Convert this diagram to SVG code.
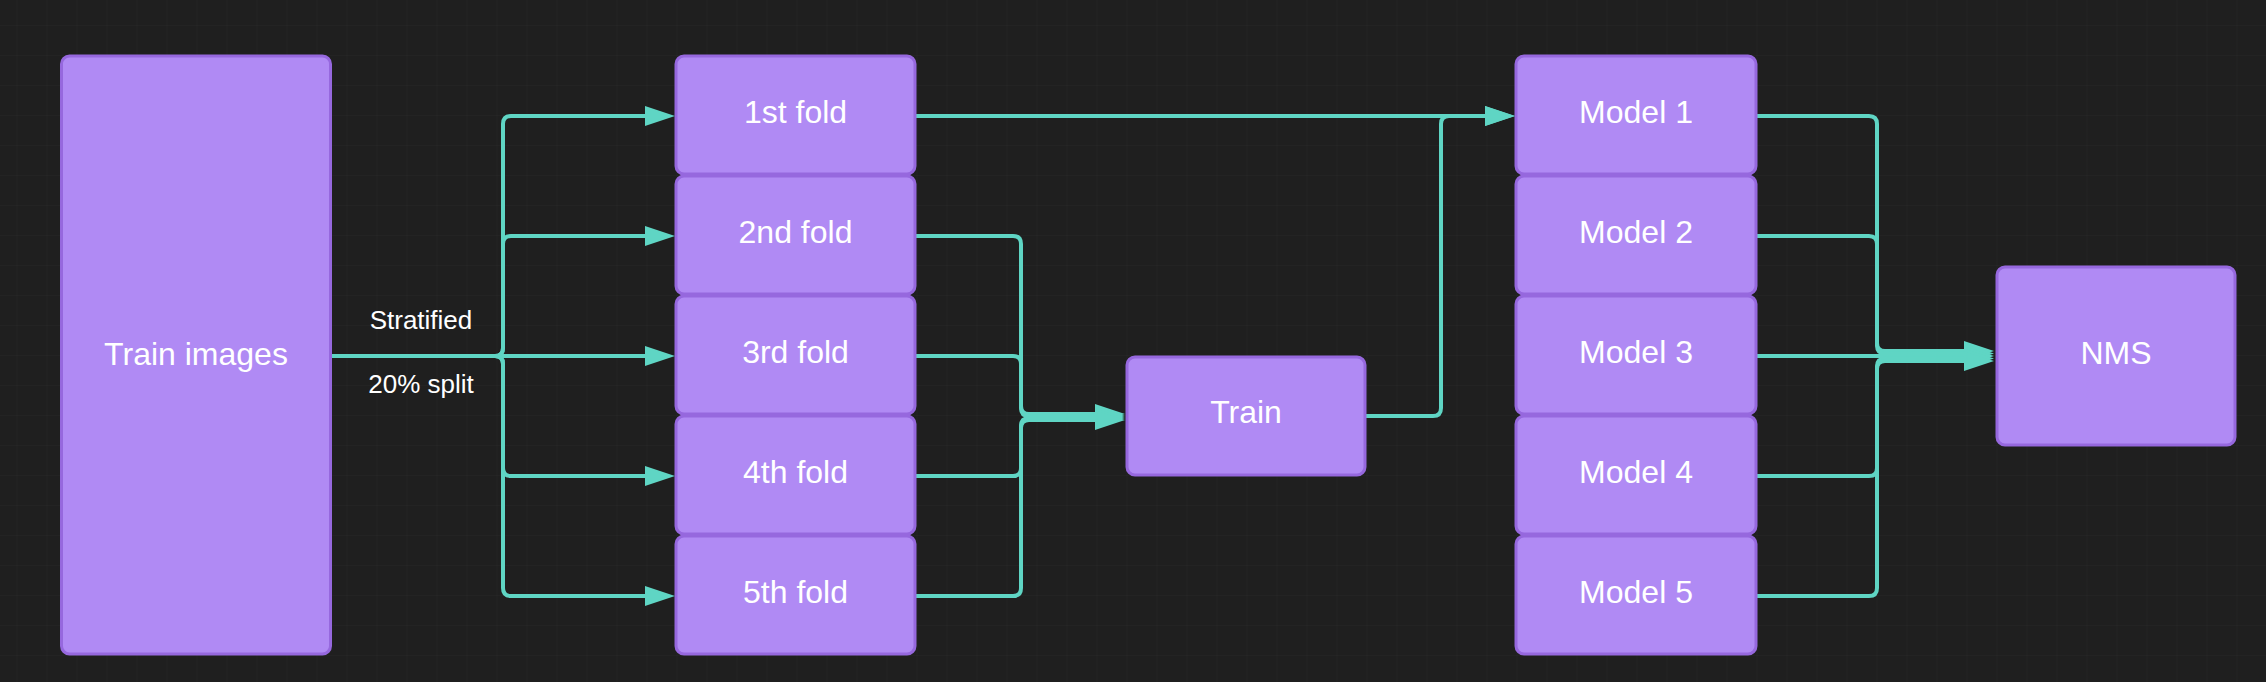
<svg xmlns="http://www.w3.org/2000/svg" width="2266" height="682" viewBox="0 0 2266 682">
  <style>
    .node rect { fill: #b08af4; stroke: #9668de; stroke-width: 3; }
    .node text { fill: #ffffff; font-family: "Liberation Sans", Arial, sans-serif; font-size: 32px; text-anchor: middle; }
    .edge { fill: none; stroke: #5fd5c4; stroke-width: 4; marker-end: url(#arrow); }
    .plain { fill: none; stroke: #5fd5c4; stroke-width: 4; }
    .label { fill: #ffffff; font-family: "Liberation Sans", Arial, sans-serif; font-size: 26px; text-anchor: middle; }
  </style>
  <defs>
    <pattern id="grid" width="30" height="30" patternUnits="userSpaceOnUse" x="16.5" y="25">
      <path d="M0,0 H30 M0,0 V30" fill="none" stroke="#272727" stroke-width="1"/>
    </pattern>
    <marker id="arrow" markerUnits="userSpaceOnUse" markerWidth="30" markerHeight="20" refX="6" refY="10" orient="auto" overflow="visible">
      <path d="M0,0 L30,10 L0,20 Z" fill="#5fd5c4"/>
    </marker>
  </defs>
  <rect width="2266" height="682" fill="#1f1f1f"/>
  <rect width="2266" height="682" fill="url(#grid)"/>

  <g id="connectors">
    <!-- Train images to folds -->
    <path class="edge" d="M332,356 H495 Q503,356 503,348 V124 Q503,116 511,116 H651"/>
    <path class="edge" d="M332,356 H495 Q503,356 503,348 V244 Q503,236 511,236 H651"/>
    <path class="edge" d="M332,356 H651"/>
    <path class="edge" d="M332,356 H495 Q503,356 503,364 V468 Q503,476 511,476 H651"/>
    <path class="edge" d="M332,356 H495 Q503,356 503,364 V588 Q503,596 511,596 H651"/>
    <!-- folds 2-5 to Train -->
    <path class="edge" d="M916,236 H1013 Q1021,236 1021,244 V406 Q1021,414 1029,414 H1101"/>
    <path class="edge" d="M916,356 H1013 Q1021,356 1021,364 V408 Q1021,416 1029,416 H1101"/>
    <path class="edge" d="M916,476 H1013 Q1021,476 1021,468 V426 Q1021,418 1029,418 H1101"/>
    <path class="edge" d="M916,596 H1013 Q1021,596 1021,588 V428 Q1021,420 1029,420 H1101"/>
    <!-- fold 1 and Train to Model 1 -->
    <path class="edge" d="M916,116 H1491"/>
    <path class="edge" d="M1366,416 H1433 Q1441,416 1441,408 V124 Q1441,116 1449,116 H1491"/>
    <!-- Models to NMS -->
    <path class="edge" d="M1757,116 H1869 Q1877,116 1877,124 V343 Q1877,351 1885,351 H1970"/>
    <path class="edge" d="M1757,236 H1869 Q1877,236 1877,244 V345.5 Q1877,353.5 1885,353.5 H1970"/>
    <path class="edge" d="M1757,356 H1970"/>
    <path class="edge" d="M1757,476 H1869 Q1877,476 1877,468 V366.5 Q1877,358.5 1885,358.5 H1970"/>
    <path class="edge" d="M1757,596 H1869 Q1877,596 1877,588 V369 Q1877,361 1885,361 H1970"/>
    <text class="label" x="421" y="329">Stratified</text>
    <text class="label" x="421" y="393">20% split</text>
  </g>

  <g id="train_images" class="node">
    <rect x="61.5" y="56" width="269" height="598" rx="8"/>
    <text x="196" y="365">Train images</text>
  </g>

  <g id="fold1" class="node"><rect x="676" y="56" width="239" height="118" rx="8"/><text x="795.5" y="123">1st fold</text></g>
  <g id="fold2" class="node"><rect x="676" y="176" width="239" height="118" rx="8"/><text x="795.5" y="243">2nd fold</text></g>
  <g id="fold3" class="node"><rect x="676" y="296" width="239" height="118" rx="8"/><text x="795.5" y="363">3rd fold</text></g>
  <g id="fold4" class="node"><rect x="676" y="416" width="239" height="118" rx="8"/><text x="795.5" y="483">4th fold</text></g>
  <g id="fold5" class="node"><rect x="676" y="536" width="239" height="118" rx="8"/><text x="795.5" y="603">5th fold</text></g>

  <g id="train" class="node"><rect x="1127" y="357" width="238" height="118" rx="8"/><text x="1246" y="423">Train</text></g>

  <g id="model1" class="node"><rect x="1516" y="56" width="240" height="118" rx="8"/><text x="1636" y="123">Model 1</text></g>
  <g id="model2" class="node"><rect x="1516" y="176" width="240" height="118" rx="8"/><text x="1636" y="243">Model 2</text></g>
  <g id="model3" class="node"><rect x="1516" y="296" width="240" height="118" rx="8"/><text x="1636" y="363">Model 3</text></g>
  <g id="model4" class="node"><rect x="1516" y="416" width="240" height="118" rx="8"/><text x="1636" y="483">Model 4</text></g>
  <g id="model5" class="node"><rect x="1516" y="536" width="240" height="118" rx="8"/><text x="1636" y="603">Model 5</text></g>

  <g id="nms" class="node"><rect x="1997" y="267" width="238" height="178" rx="8"/><text x="2116" y="364">NMS</text></g>
</svg>
